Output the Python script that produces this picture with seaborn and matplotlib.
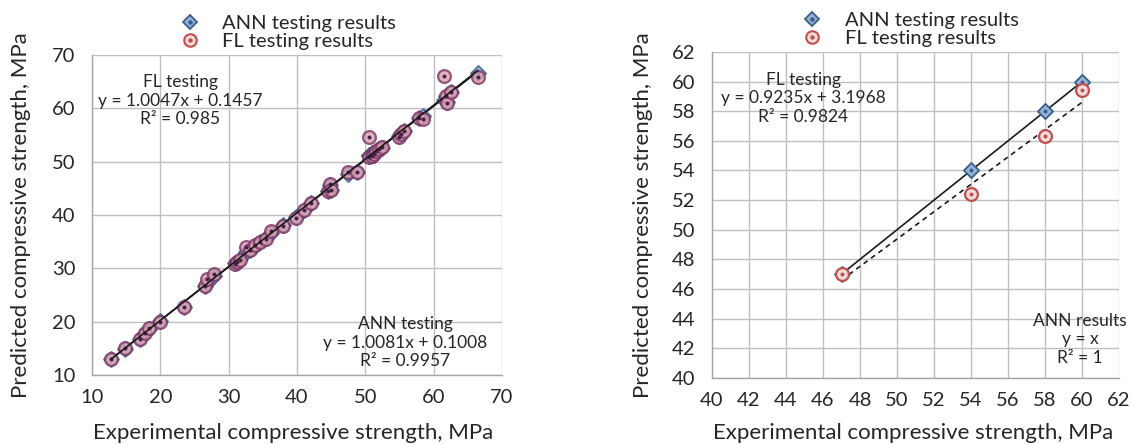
import numpy as np
import pandas as pd
import matplotlib
matplotlib.use("Agg")
import matplotlib.pyplot as plt
import seaborn as sns
from matplotlib.lines import Line2D

sns.set_theme(style="white")
plt.rcParams['font.family'] = ['Lato', 'DejaVu Sans']

# ---------------- data ----------------
left_exp = [12.8, 14.8, 17.0, 17.8, 18.4, 20.0, 23.4, 26.6, 26.9, 27.9,
            31.0, 31.3, 31.6, 32.5, 33.2, 33.9, 34.6, 35.4, 36.2, 38.0,
            39.8, 41.0, 42.0, 44.5, 44.8, 45.0, 47.5, 48.8, 50.5, 50.6,
            51.0, 51.3, 51.6, 52.0, 52.5, 55.0, 55.3, 55.7, 57.8, 58.5,
            61.5, 61.8, 62.0, 62.6, 66.5]
left_ann = [13.0, 15.0, 16.8, 17.9, 18.6, 20.1, 22.8, 26.8, 27.3, 28.6,
            31.0, 31.3, 31.8, 33.0, 33.4, 34.3, 35.0, 35.7, 36.6, 38.2,
            39.6, 41.0, 42.2, 44.6, 45.6, 44.8, 47.8, 48.1, 51.2, 51.0,
            51.6, 51.3, 52.0, 52.3, 52.6, 54.8, 55.4, 55.8, 58.2, 58.5,
            61.5, 62.3, 61.2, 63.0, 66.6]
left_fl = [13.1, 15.1, 16.8, 17.9, 18.8, 20.0, 22.7, 26.8, 28.0, 29.0,
           30.9, 31.3, 31.6, 34.0, 33.4, 34.4, 35.0, 35.6, 37.0, 38.0,
           39.4, 40.9, 42.2, 44.6, 45.8, 44.7, 48.0, 48.0, 54.6, 50.8,
           51.0, 51.5, 52.0, 52.3, 52.8, 54.6, 55.2, 55.8, 58.2, 58.0,
           66.0, 62.3, 61.0, 63.0, 65.8]

right_exp = [47, 54, 58, 60]
right_ann = [47.0, 54.0, 58.0, 60.0]
right_fl = [47.0, 52.4, 56.3, 59.4]

# trendline coefficients (slope, intercept) as printed on the chart
left_fl_fit = (1.0047, 0.1457)
left_ann_fit = (1.0081, 0.1008)
right_fl_fit = (0.9235, 3.1968)
right_ann_fit = (1.0, 0.0)

left_fl_text = ["FL testing", "y = 1.0047x + 0.1457", "R² = 0.985"]
left_ann_text = ["ANN testing", "y = 1.0081x + 0.1008", "R² = 0.9957"]
right_fl_text = ["FL testing", "y = 0.9235x + 3.1968", "R² = 0.9824"]
right_ann_text = ["ANN results", "y = x", "R² = 1"]

left_ticks = [10, 20, 30, 40, 50, 60, 70]
right_ticks = list(range(40, 63, 2))

xlabel = "Experimental compressive strength, MPa"
ylabel = "Predicted compressive strength, MPa"
legend_labels = ["ANN testing results", "FL testing results"]

# ---------------- styling ----------------
ANN_FACE = '#95B3D7'
ANN_EDGE = '#385D8A'
FL_FACE = '#F2DCDB'
FL_EDGE = '#C0504D'
GRID = '#BFBFBF'
TXT = '#262626'

fig = plt.figure(figsize=(11.31, 4.44), dpi=100)
axL = fig.add_axes([0.0813, 0.155, 0.3625, 0.721])
axR = fig.add_axes([0.6295, 0.149, 0.3600, 0.734])


def draw(ax, exp, ann, fl, ann_fit, fl_fit, ticks, dense):
    df_ann = pd.DataFrame({'x': exp, 'y': ann})
    df_fl = pd.DataFrame({'x': exp, 'y': fl})
    ms = 85
    # ANN diamonds
    sns.scatterplot(data=df_ann, x='x', y='y', ax=ax, marker='D', s=ms * 0.7,
                    facecolor=ANN_FACE, edgecolor=ANN_EDGE, linewidth=1.3,
                    alpha=0.85 if dense else 1.0, zorder=3)
    sns.scatterplot(data=df_ann, x='x', y='y', ax=ax, marker='o', s=8,
                    color=ANN_EDGE, linewidth=0, zorder=3.1)
    # FL circles
    sns.scatterplot(data=df_fl, x='x', y='y', ax=ax, marker='o', s=ms,
                    facecolor=(FL_FACE if not dense else '#D9A0AE'),
                    edgecolor=(FL_EDGE if not dense else '#7A3566'),
                    linewidth=1.6, alpha=0.8 if dense else 1.0, zorder=4)
    sns.scatterplot(data=df_fl, x='x', y='y', ax=ax, marker='o', s=8,
                    color=(FL_EDGE if not dense else '#4A1E48'), linewidth=0,
                    zorder=4.1)
    xs = np.array([min(exp), max(exp)])
    ax.plot(xs, ann_fit[0] * xs + ann_fit[1], color='#1a1a1a', lw=1.2,
            ls='-', zorder=5 if dense else 2)
    ax.plot(xs, fl_fit[0] * xs + fl_fit[1], color='#1a1a1a', lw=1.2,
            ls=(0, (3, 2.5)) if not dense else '-', zorder=2)
    ax.set_xlim(ticks[0], ticks[-1])
    ax.set_ylim(ticks[0], ticks[-1])
    ax.set_xticks(ticks)
    ax.set_yticks(ticks)
    ax.grid(True, color=GRID, lw=1.0)
    ax.set_axisbelow(True)
    for s in ['top', 'right']:
        ax.spines[s].set_visible(False)
    for s in ['left', 'bottom']:
        ax.spines[s].set_color('#A6A6A6')
        ax.spines[s].set_linewidth(1.0)
    ax.tick_params(axis='x', length=5, color='#A6A6A6', labelsize=14.5,
                   labelcolor=TXT, pad=5)
    ax.tick_params(axis='y', length=0, labelsize=14.5, labelcolor=TXT, pad=12)
    ax.set_xlabel(xlabel, fontsize=16, color=TXT)
    ax.set_ylabel(ylabel, fontsize=16, color=TXT)


draw(axL, left_exp, left_ann, left_fl, left_ann_fit, left_fl_fit, left_ticks, True)
draw(axR, right_exp, right_ann, right_fl, right_ann_fit, right_fl_fit, right_ticks, False)

axL.xaxis.set_label_coords(0.49, -0.15)
axL.yaxis.set_label_coords(-0.148, 0.5)
axR.xaxis.set_label_coords(0.495, -0.14)
axR.yaxis.set_label_coords(-0.145, 0.5)


def block(ax, lines, x, y, ha='center'):
    ax.text(x, y, "\n".join(lines), transform=ax.transAxes, ha=ha, va='top',
            fontsize=12.5, color=TXT, linespacing=1.2)


block(axL, left_fl_text, 0.215, 0.94)
block(axL, left_ann_text, 0.765, 0.185)
block(axR, right_fl_text, 0.224, 0.94)
block(axR, right_ann_text, 0.904, 0.2)

# legends (marker + centre dot)
ann_h = (Line2D([], [], ls='none', marker='D', markersize=7, markerfacecolor=ANN_FACE,
                markeredgecolor=ANN_EDGE, markeredgewidth=1.3),
         Line2D([], [], ls='none', marker='o', markersize=2.2, color=ANN_EDGE))
fl_h = (Line2D([], [], ls='none', marker='o', markersize=9, markerfacecolor=FL_FACE,
               markeredgecolor=FL_EDGE, markeredgewidth=1.5),
        Line2D([], [], ls='none', marker='o', markersize=2.2, color=FL_EDGE))
for ax, xc in [(axL, 0.465), (axR, 0.475)]:
    leg = ax.legend([ann_h, fl_h], legend_labels, loc='lower center',
                    bbox_to_anchor=(xc, 0.99), frameon=False, fontsize=14.5,
                    handletextpad=0.6, labelspacing=0.05, borderaxespad=0.0)
    for t in leg.get_texts():
        t.set_color(TXT)

fig.savefig("out.png", dpi=100)
